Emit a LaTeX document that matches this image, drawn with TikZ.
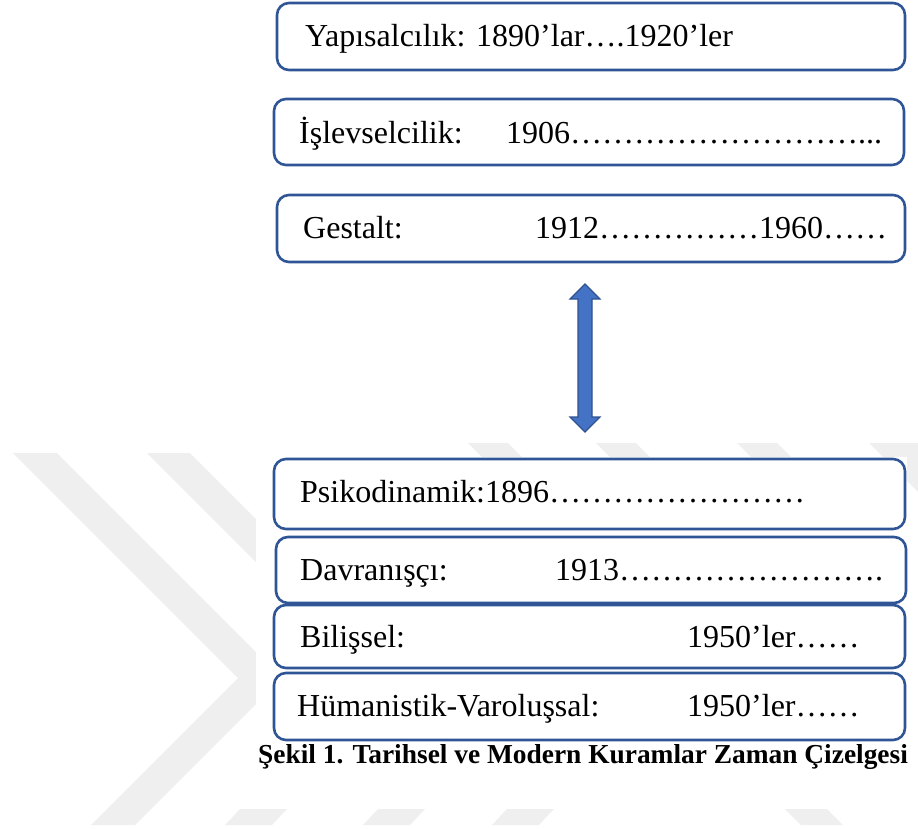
\documentclass[tikz,border=0pt]{standalone}
\usepackage{fontspec}
\setmainfont{Liberation Serif}
\definecolor{boxline}{HTML}{2F5597}
\definecolor{arrowfill}{HTML}{4472C4}
\definecolor{arrowline}{HTML}{2F528F}
\definecolor{wm}{HTML}{EFEFEF}
\tikzset{
  tbox/.style={draw=boxline, line width=2.6pt, rounded corners=12pt, fill=white, inner sep=0pt},
  ttext/.style={anchor=base west, inner sep=0pt, font=\fontsize{32}{38}\selectfont},
  capt/.style={anchor=base west, inner sep=0pt, font=\bfseries\fontsize{27.4}{32}\selectfont},
  wmark/.style={fill=wm, draw=none},
  dblarrow/.style={fill=arrowfill, draw=arrowline, line width=1.2pt, line join=miter},
}
\begin{document}
\begin{tikzpicture}[x=1pt,y=-1pt]
\useasboundingbox (0,0) rectangle (918,828);
% watermark
\fill[wmark] (13,453) -- (57,453) -- (282,678) -- (135,825) -- (91,825) -- (238,678) -- cycle;
\fill[wmark] (147,453) -- (190,453) -- (276,539) -- (276,582) -- cycle;
\foreach \a in {468,596,737} {\fill[wmark] (\a,443) -- (\a+40,443) -- (\a+54,457) -- (\a+14,457) -- cycle;}
\fill[wmark] (869,443) -- (918,443) -- (918,492) -- cycle;
\foreach \a in {225,363,492} {\fill[wmark] (\a,825) -- (\a+15,809) -- (\a+62,809) -- (\a+47,825) -- cycle;}
\fill[wmark] (785,809) -- (827,809) -- (843,825) -- (801,825) -- cycle;
\fill[white] (256,457) rectangle (907,808);
% boxes
\node[tbox, minimum width=628pt, minimum height=67pt] (b1) at (591,36.5) {};
\node[tbox, minimum width=630pt, minimum height=66pt] (b2) at (589,132) {};
\node[tbox, minimum width=628pt, minimum height=67pt] (b3) at (591,228.5) {};
\node[tbox, minimum width=631pt, minimum height=70pt] (b4) at (589.5,494) {};
\node[tbox, minimum width=630pt, minimum height=66pt] (b5) at (591,570) {};
\node[tbox, minimum width=631pt, minimum height=63pt] (b6) at (589.5,636.5) {};
\node[tbox, minimum width=631pt, minimum height=67pt] (b7) at (589.5,706.5) {};
% texts
\node[ttext] (t1) at (305,46) {Yapısalcılık: 1890’lar….1920’ler};
\node[ttext] (t2a) at (299,143) {İşlevselcilik:};
\node[ttext] (t2b) at (506,143) {1906……………………\ldots...};
\node[ttext] (t3a) at (303,238) {Gestalt:};
\node[ttext] (t3b) at (535,238) {1912……………1960……};
\node[ttext] (t4) at (300,502) {Psikodinamik:1896……………………};
\node[ttext] (t5a) at (300,580) {Davranışçı:};
\node[ttext] (t5b) at (555,580) {1913…………………….};
\node[ttext] (t6a) at (300,647) {Bilişsel:};
\node[ttext] (t6b) at (687,647) {1950’ler……};
\node[ttext] (t7a) at (297,716) {Hümanistik-Varoluşsal:};
\node[ttext] (t7b) at (687,716) {1950’ler……};
\node[capt] (cap) at (258,763) {Şekil 1. Tarihsel ve Modern Kuramlar Zaman Çizelgesi};
% double arrow
\coordinate (atop) at (585,284);
\coordinate (abot) at (585,432);
\draw[dblarrow] (atop) -- ++(15,15) -- ++(-8,0) -- ++(0,118) -- ++(8,0) -- (abot)
  -- ++(-15,-15) -- ++(8,0) -- ++(0,-118) -- ++(-8,0) -- cycle;
\end{tikzpicture}
\end{document}
